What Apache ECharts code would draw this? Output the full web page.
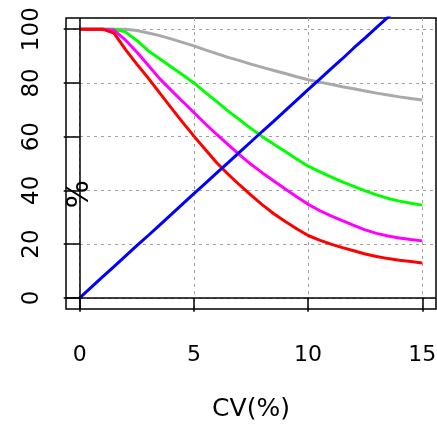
<!DOCTYPE html>
<html>
<head>
<meta charset="utf-8">
<script src="https://cdn.jsdelivr.net/npm/echarts@6/dist/echarts.min.js"></script>
<style>html,body{margin:0;padding:0;background:#fff}#c{width:437px;height:424px}</style>
</head>
<body>
<div id="c"></div>
<script>
const cv = [0,0.5,1,1.5,2,2.5,3,3.5,4,4.5,5,5.5,6,6.5,7,7.5,8,8.5,9,9.5,10,10.5,11,11.5,12,12.5,13,13.5,14,14.5,15];
const redVals = [100,100,100,98.5,92.5,87,81.8,76.3,70.8,65.4,60.2,55.2,50.3,46,42,38.2,34.6,31.3,28.4,25.7,23.2,21.5,20,18.7,17.5,16.3,15.4,14.6,14,13.5,13];
const magentaVals = [100,100,100,99.6,96,91.5,86.6,81.6,77.3,73.1,69,64.8,60.8,57,53.2,49.7,46.5,43.5,40.5,37.6,34.8,32.5,30.5,28.7,27,25.3,24,23,22.3,21.7,21.2];
const greenVals = [100,100,100,100,99,95.8,92,89,86,83,80,76.5,73,69.5,66.3,63,60,57.2,54.5,51.7,49,47,45,43.2,41.5,39.8,38.3,37,36,35.2,34.5];
const grayVals = [100,100,100,100,100,99.5,98.6,97.6,96.4,95.1,93.8,92.3,90.9,89.5,88.3,87,85.8,84.6,83.5,82.3,81.2,80.3,79.5,78.6,77.8,77,76.2,75.5,74.8,74.2,73.6];
const blueVals = [0,3.9,7.8,11.6,15.5,19.4,23.2,27.1,31,34.9,38.8,42.6,46.5,50.3,54.2,58.1,62,65.8,69.7,73.6,77.5,81.3,85.2,89,93,96.8,100.7,104.5,108.4,112.2,116.1];
const xTicks = [0,5,10,15];
const yTicks = [0,20,40,60,80,100];
const xTitle = 'CV(%)';
const yTitle = '%';
const yTitlePos = [0, 38.6];

const pairs = v => cv.map((x,i)=>[x, v[i]]);
const mk = (name, vals, color, extra) => Object.assign({
  name, type:'line', data: pairs(vals), showSymbol:false, symbol:'none',
  lineStyle:{color, width:3}, itemStyle:{color}, animation:false, z:3
}, extra || {});

const chart = echarts.init(document.getElementById('c'), null, {renderer:'canvas'});
const gridLine = {show:true, lineStyle:{color:'#a0a0a0', width:1, type:[3,4]}};
chart.setOption({
  animation:false,
  backgroundColor:'#fff',
  grid:{left:66, top:18, right:1, bottom:115, show:true, borderColor:'#000', borderWidth:1.5, backgroundColor:'transparent', containLabel:false, outerBoundsMode:'none'},
  xAxis:{
    type:'value', min:-0.6, max:15.6,
    axisLine:{show:false},
    axisTick:{show:true, customValues:xTicks, length:14, lineStyle:{color:'#000', width:1.5}},
    axisLabel:{customValues:xTicks, fontSize:22, fontFamily:'DejaVu Sans', color:'#000', margin:35},
    splitLine:gridLine,
    name:xTitle, nameLocation:'middle', nameGap:88,
    nameTextStyle:{fontSize:25, fontFamily:'DejaVu Sans', color:'#000'}
  },
  yAxis:{
    type:'value', min:-4.16, max:104.16,
    axisLine:{show:false},
    axisTick:{show:true, customValues:yTicks, length:16, lineStyle:{color:'#000', width:1.5}},
    axisLabel:{customValues:yTicks, fontSize:23, fontFamily:'DejaVu Sans', color:'#000', rotate:90, margin:22},
    splitLine:gridLine
  },
  series:[
    {
      type:'line', data:[], silent:true,
      markLine:{silent:true, symbol:'none', label:{show:false}, animation:false,
        lineStyle:{color:'#000', width:1.5, type:'solid'},
        data:[{xAxis:0},{yAxis:0}]}
    },
    mk('gray', grayVals, '#a9a9a9'),
    mk('green', greenVals, '#00ff00'),
    mk('magenta', magentaVals, '#ff00ff'),
    mk('red', redVals, '#ff0000'),
    mk('blue', blueVals, '#0000ff', {
      markPoint:{silent:true, symbol:'circle', symbolSize:1, itemStyle:{color:'transparent'}, animation:false,
        data:[{coord:yTitlePos, value:yTitle}],
        label:{show:true, formatter:yTitle, rotate:90, fontSize:30, fontFamily:'DejaVu Sans', color:'#000', position:'inside', align:'center', verticalAlign:'middle'}}
    })
  ]
});
</script>
</body>
</html>
